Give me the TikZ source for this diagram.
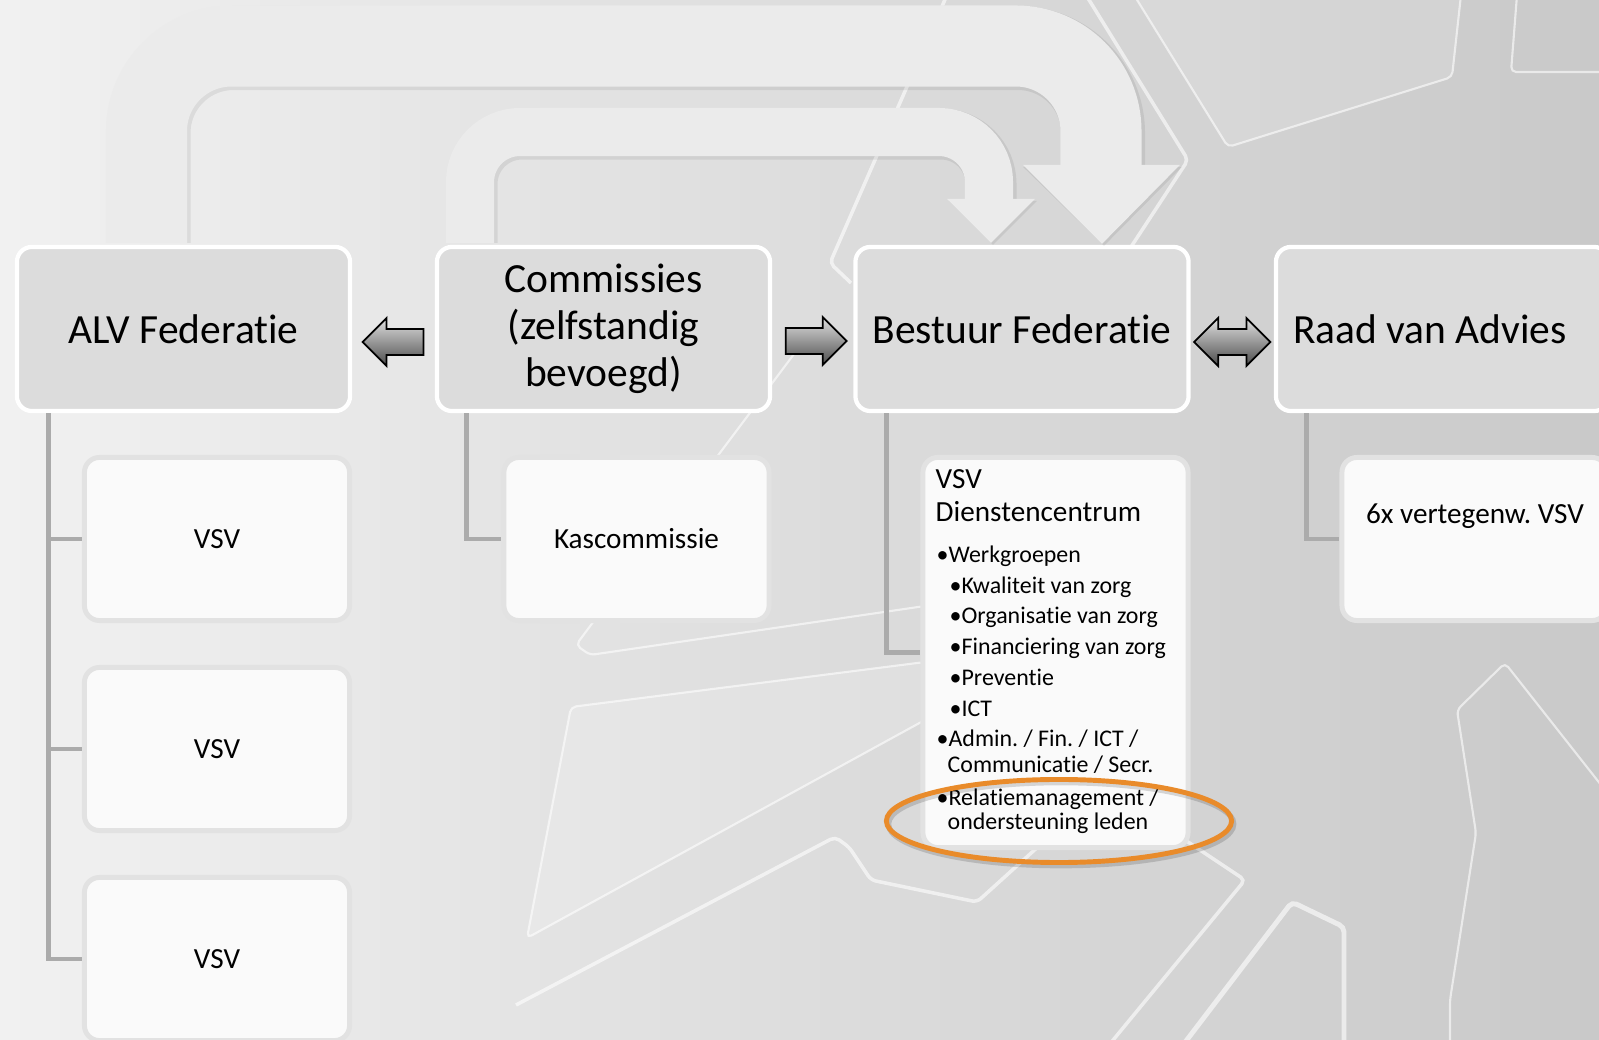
\documentclass[tikz,border=0pt]{standalone}
\usepackage{fontspec}
\setmainfont{Carlito}[Ligatures=NoCommon]
\usetikzlibrary{calc,shapes.arrows,shapes.geometric}
\definecolor{bgleft}{HTML}{F1F1F1}
\definecolor{bgmid}{HTML}{DCDCDC}
\definecolor{bgright}{HTML}{C9C9C9}
\definecolor{topfill}{HTML}{DCDCDC}
\definecolor{subfill}{HTML}{FAFAFA}
\definecolor{subrim}{HTML}{E2E2E2}
\definecolor{linkgray}{HTML}{ABABAB}
\definecolor{bandfill}{HTML}{EBEBEB}
\definecolor{ringorange}{HTML}{E98B2A}
\newcommand\hdfont{\fontsize{11.8}{13.4}\selectfont\frenchspacing}
\newcommand\lwfont{\fontsize{8.3}{9.5}\selectfont\frenchspacing}
\newcommand\blfont{\fontsize{6.8}{8}\selectfont\frenchspacing}

\begin{document}
\begin{tikzpicture}[x=0.01cm, y=-0.01cm,
    top box/.style={rectangle, rounded corners=0.15cm, draw=white, line width=1.2pt, fill=topfill,
        minimum width=3.33cm, minimum height=1.64cm, align=center, font=\hdfont, inner sep=0pt},
    sub box/.style={rectangle, rounded corners=0.15cm, draw=subrim, line width=1.4pt, fill=subfill,
        minimum width=2.65cm, minimum height=1.63cm, font=\lwfont, inner sep=0pt},
    tie line/.style={draw=linkgray, line width=1.4pt},
    flat arrow/.style={draw=black, line width=0.5pt, top color=white!88!black, bottom color=black!70,
        text height=0pt, text depth=0pt, inner xsep=0pt, inner ysep=0.12cm},
    fat band/.style={draw=bandfill, line cap=butt},
    band shadow/.style={draw=black, opacity=0.07, line cap=butt},
    bg trace/.style={draw=white, opacity=0.6, line width=0.6pt, rounded corners=0.05cm},
    dc line/.style={anchor=base west, inner sep=0pt, font=\blfont}]

    \useasboundingbox (0,0) rectangle (1599,1040);
    \clip (0,0) rectangle (1599,1040);
    \fill[left color=bgleft, middle color=bgmid, right color=bgright] (0,0) rectangle (1599,1040);

    \filldraw[bg trace, fill=white, fill opacity=0.12] (1134,-5) -- (1228,147) -- (1452,77) -- (1461,-5);
    \draw[bg trace] (1517,-5) -- (1511,72) -- (1605,72);
    \draw[bg trace, line width=1pt] (1086,-5) -- (1188,160) -- (1129,250);
    \draw[bg trace, line width=1pt] (947,-5) -- (830,263) -- (851,283);
    \draw[bg trace] (812,330) -- (576,645) -- (590,655) -- (925,606);
    \filldraw[bg trace, fill=white, fill opacity=0.15] (571,707) -- (527,938) -- (925,720) -- (925,662) -- cycle;
    \draw[bg trace, line width=1pt] (516,1005) -- (835,837) -- (849,847) -- (871,880) -- (977,902) -- (1040,845);
    \draw[bg trace, line width=1pt] (1185,840) -- (1245,880) -- (1109,1045);
    \draw[bg trace, line width=1.4pt] (1183,1045) -- (1292,902) -- (1344,927) -- (1344,1045);
    \draw[bg trace] (1605,790) -- (1505,663) -- (1457,710) -- (1476,833) -- (1450,1000) -- (1450,1045);

    \node[top box] at (183.5,329) (alv) {ALV Federatie};
    \node[top box] at (603.5,329) (com) {Commissies\\(zelfstandig\\bevoegd)};
    \node[top box] at (1022,329) (bes) {Bestuur Federatie};
    \node[top box] at (1442.5,329) (raad) {Raad van Advies\hspace*{0.25cm}};

    \draw[band shadow, line width=0.84cm, rounded corners=0.85cm] ($(alv.north)+(-35,-2)$) |- (1103,48) -- ($(bes.north)+(81,-78)$);
    \draw[fat band, line width=0.81cm, rounded corners=0.85cm] ($(alv.north)+(-37,-2)$) |- (1101,46) -- ($(bes.north)+(79,-79)$);
    \fill[black, opacity=0.07] ($(bes.north)+(1,-78)$) -- ($(bes.north)+(160,-78)$) -- ($(bes.north)+(82,1)$) -- cycle;
    \fill[bandfill] ($(bes.north)+(1,-80)$) -- ($(bes.north)+(158,-80)$) -- ($(bes.north)+(80,-1)$) -- cycle;

    \draw[band shadow, line width=0.51cm, rounded corners=0.5cm] ($(com.north)+(-131.5,-2)$) |- (991,134) -- ($(bes.north)+(-31,-43)$);
    \draw[fat band, line width=0.48cm, rounded corners=0.5cm] ($(com.north)+(-133.5,-2)$) |- (989,132) -- ($(bes.north)+(-33,-45)$);
    \fill[black, opacity=0.07] ($(bes.north)+(-73,-44)$) -- ($(bes.north)+(15,-44)$) -- ($(bes.north)+(-29,0)$) -- cycle;
    \fill[bandfill] ($(bes.north)+(-75,-46)$) -- ($(bes.north)+(13,-46)$) -- ($(bes.north)+(-31,-2)$) -- cycle;

    \node[sub box] at (217,539) (vsv1) {VSV};
    \node[sub box] at (217,749) (vsv2) {VSV};
    \node[sub box] at (217,959) (vsv3) {VSV};
    \node[sub box] at (636.5,539) (kas) {Kascommissie};
    \node[sub box, minimum height=3.90cm] at (1055.5,652.5) (dc) {};
    \node[sub box] at (1474.5,539) (vert) {};
    \node[font=\lwfont, inner sep=0pt] at (1475,516) (vertlbl) {6x vertegenw. VSV};

    \draw[tie line] ($(alv.south west)+(34,0)$) |- (vsv1.west);
    \draw[tie line] ($(alv.south west)+(34,0)$) |- (vsv2.west);
    \draw[tie line] ($(alv.south west)+(34,0)$) |- (vsv3.west);
    \draw[tie line] ($(com.south west)+(32,0)$) |- (kas.west);
    \draw[tie line] ($(bes.south west)+(33,0)$) |- (dc.west);
    \draw[tie line] ($(raad.south west)+(33,0)$) |- (vert.west);

    \node[flat arrow, single arrow, single arrow head extend=0.11cm, minimum height=0.61cm, shape border rotate=180]
        at ($(alv.east)!0.5!(com.west)+(6,13)$) (arrcomalv) {};
    \node[flat arrow, single arrow, single arrow head extend=0.11cm, minimum height=0.61cm]
        at ($(com.east)!0.5!(bes.west)+(-3,12)$) (arrcombes) {};
    \node[flat arrow, double arrow, double arrow head extend=0.11cm, minimum height=0.76cm]
        at ($(bes.east)!0.5!(raad.west)+(0,13)$) (arrbesraad) {};

    \node[dc line, font=\lwfont] at (935,489) (dchead) {VSV};
    \node[dc line, font=\lwfont] at (935,522) (dcname) {Dienstencentrum};
    \node[dc line] at (936,563) (dcwerk) {•Werkgroepen};
    \node[dc line] at (949,594) (dckwal) {•Kwaliteit van zorg};
    \node[dc line] at (949,624) (dcorg) {•Organisatie van zorg};
    \node[dc line] at (949,655) (dcfin) {•Financiering van zorg};
    \node[dc line] at (949,686) (dcprev) {•Preventie};
    \node[dc line] at (949,717) (dcict) {•ICT};
    \node[dc line] at (936,747) (dcadmin) {•Admin. / Fin. / ICT /};
    \node[dc line] at (947,773) (dccomm) {Communicatie / Secr.};
    \node[dc line] at (936,806) (dcrel) {•Relatiemanagement /};
    \node[dc line] at (947,830) (dcond) {ondersteuning leden};

    \draw[black, opacity=0.15, line width=1.6pt] (1061,824) ellipse [x radius=1.725cm, y radius=0.415cm];
    \node[ellipse, draw=ringorange, line width=1.4pt, minimum width=3.45cm, minimum height=0.83cm, inner sep=0pt]
        at (1059,821) (ring) {};

\end{tikzpicture}
\end{document}
